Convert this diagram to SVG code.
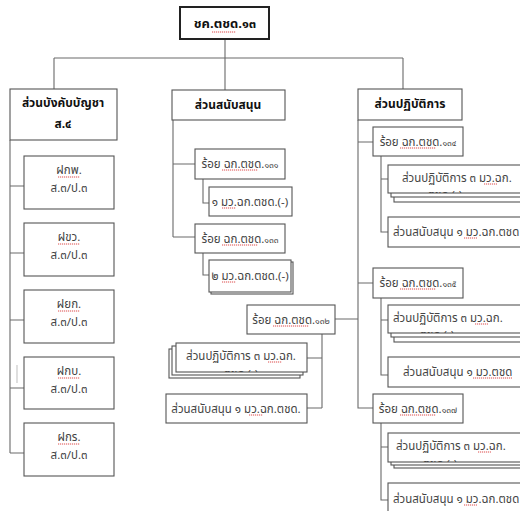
<svg xmlns="http://www.w3.org/2000/svg" width="520" height="511" viewBox="0 0 520 511">
<style>
.b{fill:#fff;stroke:#555;stroke-width:1.1}
.top{fill:#fff;stroke:#222;stroke-width:2}
.c{fill:none;stroke:#6a6a6a;stroke-width:1.1}
text{font-family:"Noto Sans Thai","Noto Sans","DejaVu Sans",sans-serif;font-size:11.5px;fill:#444}
.h{font-weight:bold;fill:#111;font-size:12px}
.m{text-anchor:middle}
.d{font-size:8.5px}
.sq{fill:none;stroke:#d42020;stroke-width:0.8;stroke-dasharray:1.2 0.8}
</style>
<defs>
<clipPath id="k1"><rect x="176" y="343" width="131" height="29"/></clipPath>
<clipPath id="k2"><rect x="388" y="165" width="140" height="28"/></clipPath>
<clipPath id="k3"><rect x="388" y="305" width="140" height="28"/></clipPath>
<clipPath id="k4"><rect x="388" y="433" width="140" height="29"/></clipPath>
</defs>
<rect width="520" height="511" fill="#fff"/>

<g id="connectors">
<path class="c" d="M225,39V58M54,58H403M54,58V89M225,58V90M403,58V89"/>
<path class="c" d="M10,140V453M10,186H24M10,253H24M10,320H24M10,388H24M10,453H24"/>
<path class="c" d="M17,365V383" style="stroke:#c4c4c4"/>
<path class="c" d="M173,120V237M173,164H195M173,237H195M203,179V203H209M203,253V275H209"/>
<path class="c" d="M335,319H358M322,334V408M307,358H322M307,408H322"/>
<path class="c" d="M358,120V408H373M358,142H373M358,283H373"/>
<path class="c" d="M381,156V232H388M381,179H388M381,298V375H388M381,320H388M381,423V500H388M381,447H388"/>
</g>

<g id="n-top">
<rect class="top" x="180" y="7" width="89" height="32"/>
<text class="h m" x="225" y="28" style="font-size:13px">ชค.ตชด.๑๓</text>
</g>

<g id="n-command">
<rect class="b" x="10" y="89" width="107" height="51"/>
<text class="h m" x="63" y="107">ส่วนบังคับบัญชา</text>
<text class="h m" x="63" y="128">ส.๔</text>
</g>
<g id="n-fkp">
<rect class="b" x="24" y="156" width="90" height="53"/>
<text class="m" x="69" y="174">ฝกพ.</text>
<text class="m" x="69" y="192">ส.๓/ป.๓</text>
</g>
<g id="n-fkw">
<rect class="b" x="24" y="223" width="90" height="53"/>
<text class="m" x="69" y="241">ฝขว.</text>
<text class="m" x="69" y="259">ส.๓/ป.๓</text>
</g>
<g id="n-fyk">
<rect class="b" x="24" y="290" width="90" height="53"/>
<text class="m" x="69" y="308">ฝยก.</text>
<text class="m" x="69" y="326">ส.๓/ป.๓</text>
</g>
<g id="n-fkb">
<rect class="b" x="24" y="357" width="90" height="52"/>
<text class="m" x="69" y="375">ฝกบ.</text>
<text class="m" x="69" y="393">ส.๓/ป.๓</text>
</g>
<g id="n-fkr">
<rect class="b" x="24" y="423" width="90" height="53"/>
<text class="m" x="69" y="441">ฝกร.</text>
<text class="m" x="69" y="459">ส.๓/ป.๓</text>
</g>

<g id="n-support">
<rect class="b" x="172" y="90" width="113" height="30"/>
<text class="h m" x="228" y="109">ส่วนสนับสนุน</text>
</g>
<g id="n-131">
<rect class="b" x="195" y="149" width="90" height="30"/>
<text class="m" x="240" y="168">ร้อย ฉก.ตชด.<tspan class="d">๑๓๑</tspan></text>
</g>
<g id="n-131-1">
<rect class="b" x="209" y="187" width="83" height="29"/>
<text class="m" x="250" y="206">๑ มว.ฉก.ตชด.(-)</text>
</g>
<g id="n-133">
<rect class="b" x="195" y="224" width="90" height="29"/>
<text class="m" x="240" y="243">ร้อย ฉก.ตชด.<tspan class="d">๑๓๓</tspan></text>
</g>
<g id="n-133-1">
<rect class="b" x="211" y="262" width="82" height="32"/>
<rect class="b" x="209" y="260" width="82" height="32"/>
<text class="m" x="250" y="280">๒ มว.ฉก.ตชด.(-)</text>
</g>
<g id="n-132">
<rect class="b" x="247" y="305" width="88" height="29"/>
<text class="m" x="291" y="324">ร้อย ฉก.ตชด.<tspan class="d">๑๓๒</tspan></text>
</g>
<g id="n-132-op">
<rect class="b" x="169" y="349" width="131" height="29"/>
<rect class="b" x="172" y="346" width="131" height="29"/>
<rect class="b" x="176" y="343" width="131" height="29"/>
<g clip-path="url(#k1)">
<text class="m" x="241" y="360">ส่วนปฏิบัติการ ๓ มว.ฉก.</text>
<text class="m" x="241" y="378">ตชด.(-)</text>
</g>
</g>
<g id="n-132-sp">
<rect class="b" x="166" y="394" width="141" height="29"/>
<text class="m" x="236" y="413">ส่วนสนับสนุน ๑ มว.ฉก.ตชด.</text>
</g>

<g id="n-ops">
<rect class="b" x="358" y="89" width="104" height="31"/>
<text class="h m" x="410" y="108">ส่วนปฏิบัติการ</text>
</g>
<g id="n-134">
<rect class="b" x="373" y="127" width="90" height="29"/>
<text class="m" x="418" y="146">ร้อย ฉก.ตชด.<tspan class="d">๑๓๔</tspan></text>
</g>
<g id="n-134-op">
<rect class="b" x="394" y="172" width="140" height="30"/>
<rect class="b" x="391" y="168" width="140" height="29"/>
<rect class="b" x="388" y="165" width="140" height="28"/>
<g clip-path="url(#k2)">
<text x="402" y="182">ส่วนปฏิบัติการ ๓ มว.ฉก.</text>
<text class="m" x="445" y="199">ตชด.(-)</text>
</g>
</g>
<g id="n-134-sp">
<rect class="b" x="388" y="217" width="140" height="30"/>
<text x="393" y="236">ส่วนสนับสนุน ๑ มว.ฉก.ตชด</text>
</g>
<g id="n-135">
<rect class="b" x="373" y="268" width="90" height="30"/>
<text class="m" x="418" y="287">ร้อย ฉก.ตชด.<tspan class="d">๑๓๕</tspan></text>
</g>
<g id="n-135-op">
<rect class="b" x="394" y="312" width="140" height="30"/>
<rect class="b" x="391" y="308" width="140" height="29"/>
<rect class="b" x="388" y="305" width="140" height="28"/>
<g clip-path="url(#k3)">
<text x="393" y="322">ส่วนปฏิบัติการ ๓ มว.ฉก.</text>
<text class="m" x="437" y="339">ตชด.(-)</text>
</g>
</g>
<g id="n-135-sp">
<rect class="b" x="388" y="357" width="140" height="30"/>
<text x="403" y="376">ส่วนสนับสนุน ๑ มว.ตชด</text>
</g>
<g id="n-137">
<rect class="b" x="373" y="394" width="90" height="29"/>
<text class="m" x="418" y="413">ร้อย ฉก.ตชด.<tspan class="d">๑๓๗</tspan></text>
</g>
<g id="n-137-op">
<rect class="b" x="394" y="439" width="140" height="29"/>
<rect class="b" x="391" y="436" width="140" height="29"/>
<rect class="b" x="388" y="433" width="140" height="29"/>
<g clip-path="url(#k4)">
<text x="396" y="450">ส่วนปฏิบัติการ ๓ มว.ฉก.</text>
<text class="m" x="440" y="468">ตชด.(-)</text>
</g>
</g>
<g id="n-137-sp">
<rect class="b" x="388" y="483" width="140" height="32"/>
<text x="393" y="503">ส่วนสนับสนุน ๑ มว.ฉก.ตชด</text>
</g>

<g id="spellcheck">
<path class="sq" d="M212,32H236"/>
<path class="sq" d="M58,177H80M58,244H80M58,311H80M58,378H80M58,444H80"/>
<path class="sq" d="M222,170H258M222,245H258M273,326H309M400,148H436M400,289H436M400,415H436"/>
<path class="sq" d="M222,208H236M222,282H236M268,362H282M249,415H263"/>
<path class="sq" d="M484,184H497M475,324H488M478,452H491M464,238H477M473,378H512M464,505H477"/>
</g>
</svg>
